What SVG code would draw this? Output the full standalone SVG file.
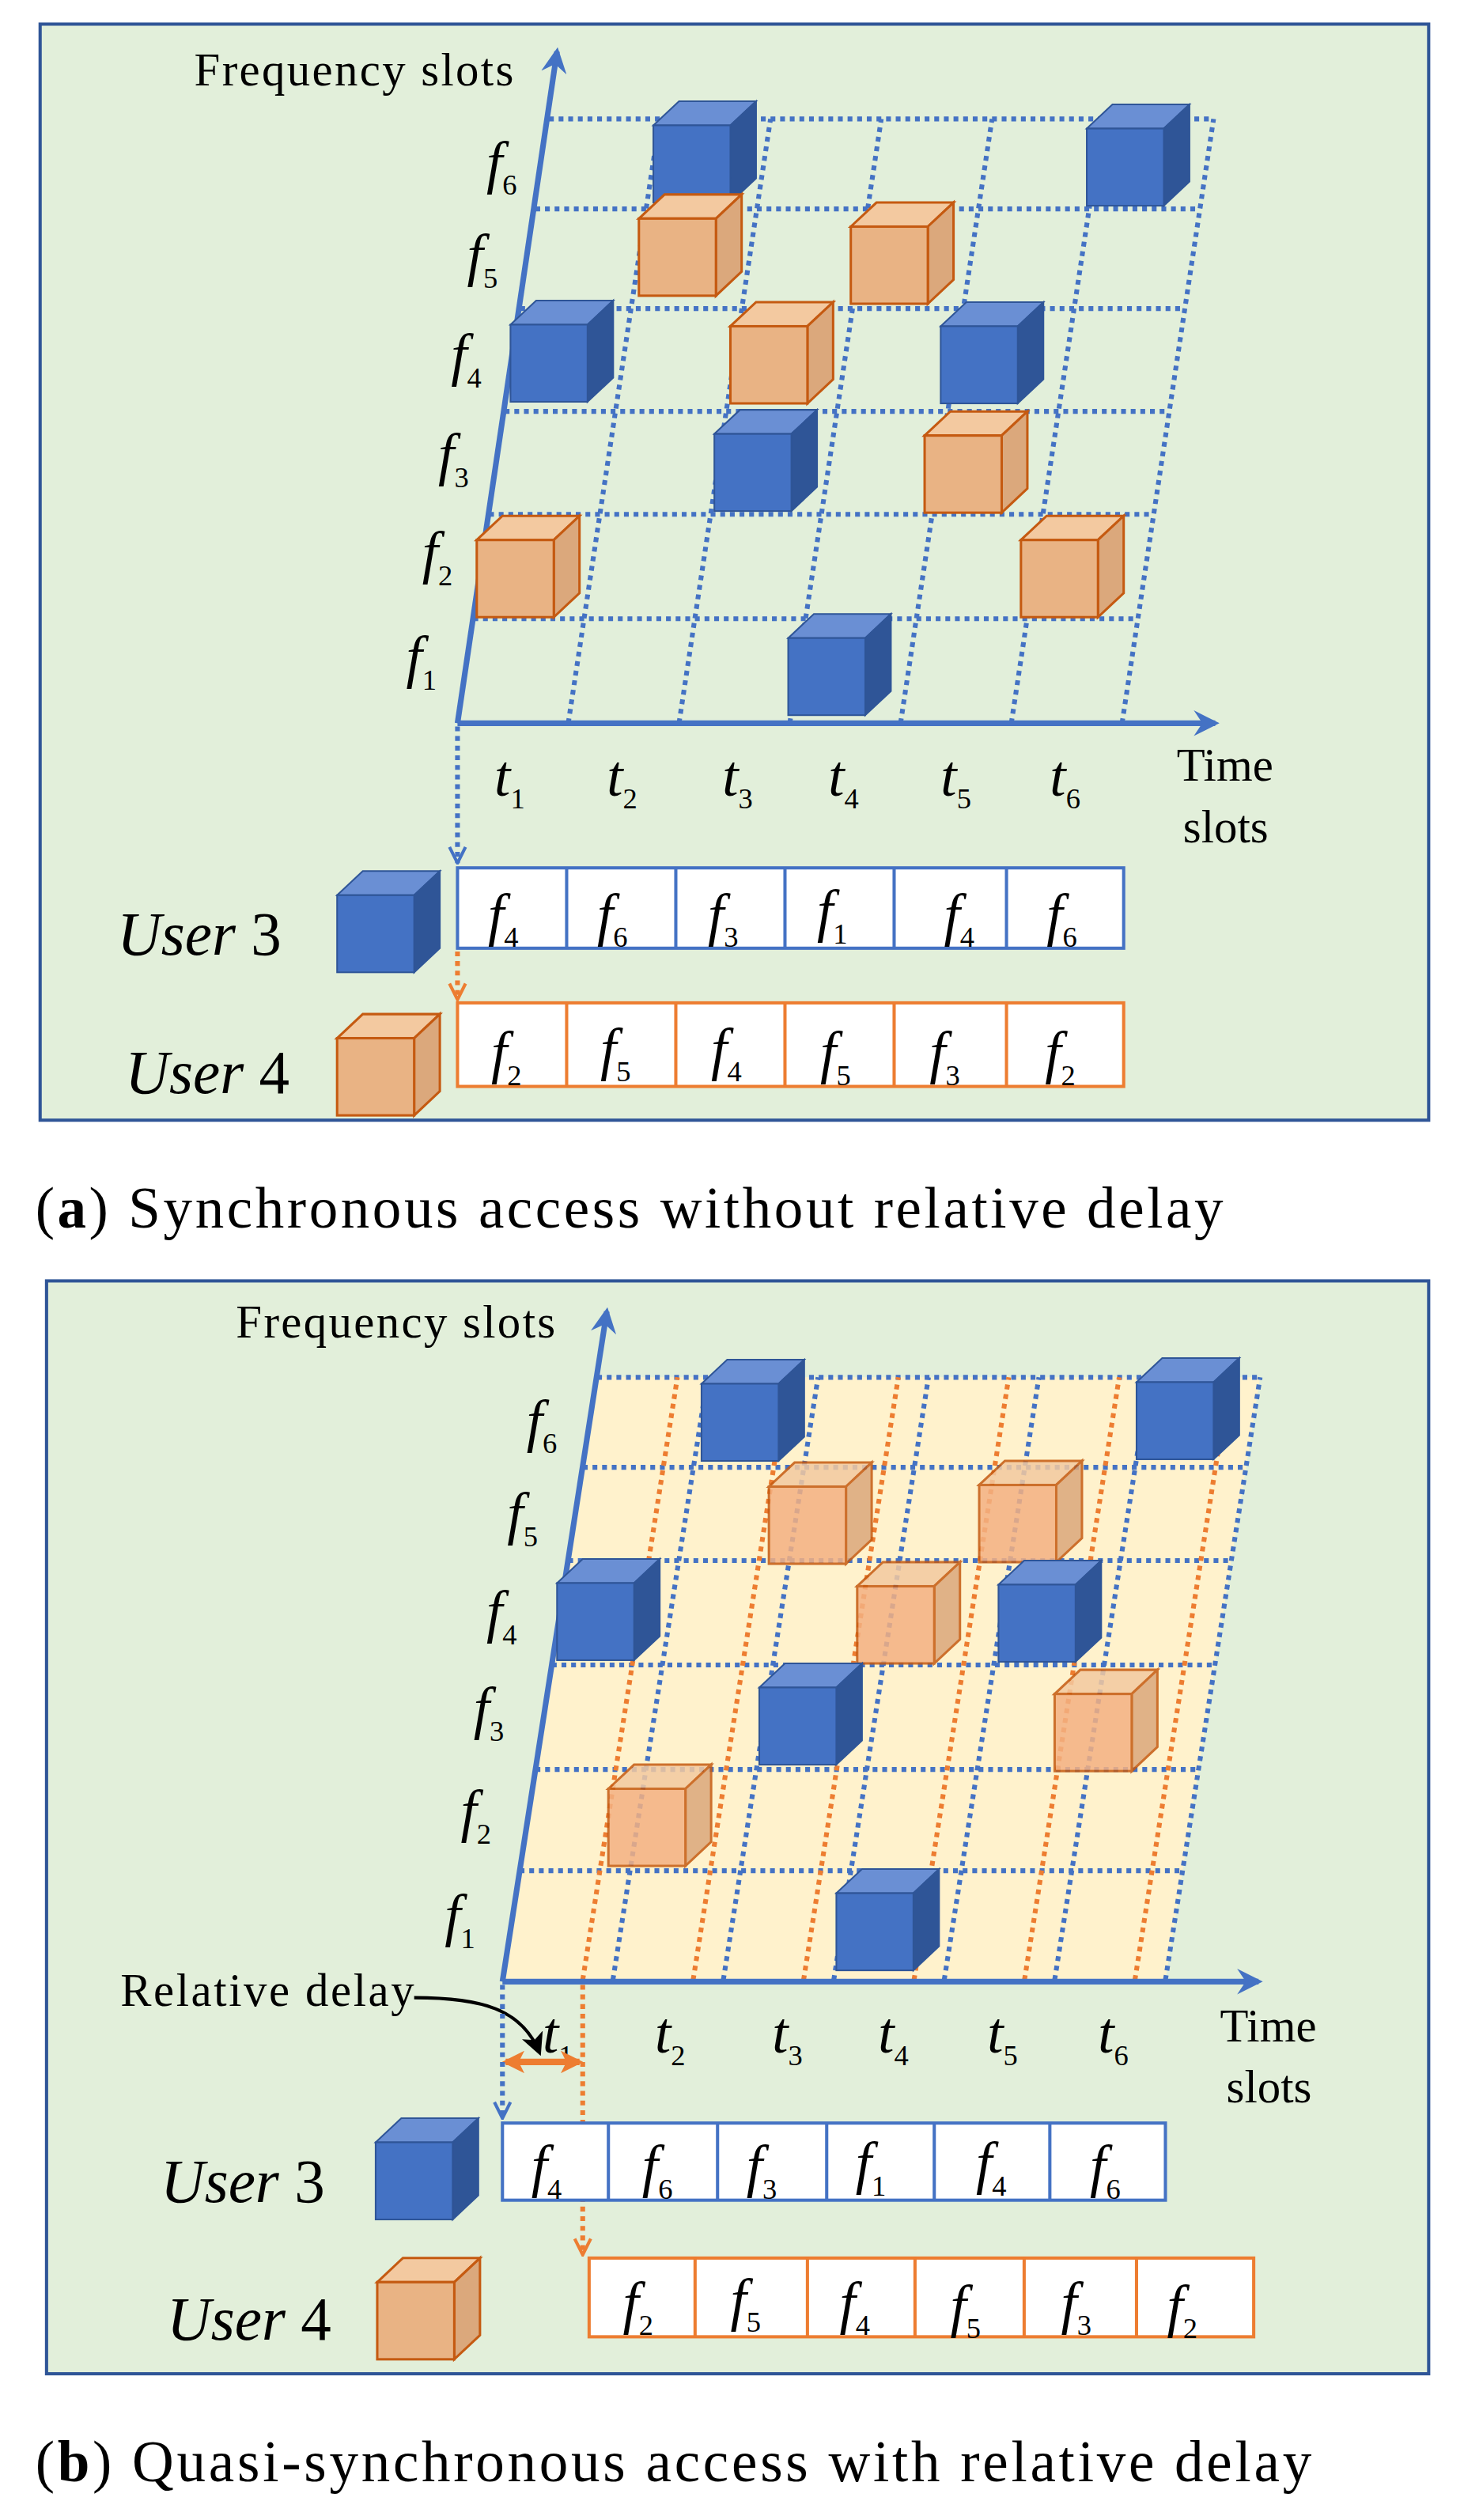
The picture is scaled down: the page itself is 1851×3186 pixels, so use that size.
<svg xmlns="http://www.w3.org/2000/svg" xmlns:xlink="http://www.w3.org/1999/xlink" width="1851" height="3186" viewBox="0 0 1851 3186">
<style>
.frame{fill:#e2efda;stroke:#2f5597;stroke-width:2}
.axis{stroke:#4472c4;stroke-width:3.5;fill:none}
.gb{stroke:#4472c4;stroke-width:3;stroke-dasharray:3 3;fill:none}
.go{stroke:#ed7d31;stroke-width:3;stroke-dasharray:3 3;fill:none}
.fi{font-family:"Liberation Serif",serif;font-style:italic;font-size:36px;fill:#000}
.sub{font-style:normal;font-size:18px}
.lbl{font-family:"Liberation Serif",serif;font-size:29px;fill:#000}
.usr{font-family:"Liberation Serif",serif;font-size:38px;fill:#000}
.cap{font-family:"Liberation Serif",serif;font-size:36px;fill:#000}
.tb{fill:#fff;stroke:#4472c4;stroke-width:2}
.to{fill:#fff;stroke:#ed7d31;stroke-width:2}
</style>
<defs>
<marker id="ax" viewBox="0 0 12 12" refX="10" refY="6" markerWidth="16" markerHeight="16" orient="auto" markerUnits="userSpaceOnUse"><path d="M0,0 L12,6 L0,12 L4,6z" fill="#4472c4"/></marker>
<marker id="db" viewBox="0 0 12 12" refX="11" refY="6" markerWidth="12" markerHeight="12" orient="auto" markerUnits="userSpaceOnUse"><path d="M1,1 L11,6 L1,11" fill="none" stroke="#4472c4" stroke-width="2"/></marker>
<marker id="do" viewBox="0 0 12 12" refX="11" refY="6" markerWidth="12" markerHeight="12" orient="auto" markerUnits="userSpaceOnUse"><path d="M1,1 L11,6 L1,11" fill="none" stroke="#ed7d31" stroke-width="2"/></marker>
<marker id="oa" viewBox="0 0 12 12" refX="10" refY="6" markerWidth="14" markerHeight="14" orient="auto-start-reverse" markerUnits="userSpaceOnUse"><path d="M0,0 L12,6 L0,12 L3,6z" fill="#ed7d31"/></marker>
<marker id="ka" viewBox="0 0 12 12" refX="10" refY="6" markerWidth="14" markerHeight="14" orient="auto" markerUnits="userSpaceOnUse"><path d="M0,0 L12,6 L0,12 L3,6z" fill="#000"/></marker>
<g id="cubeB"><polygon points="0,0 16,-15 64,-15 48,0" fill="#6a8fd4" stroke="#2f5597" stroke-width="1"/><polygon points="48,0 64,-15 64,33 48,48" fill="#2f5597" stroke="#2f5597" stroke-width="1"/><rect x="0" y="0" width="48" height="48" fill="#4472c4" stroke="#2f5597" stroke-width="1"/></g>
<g id="cubeO"><polygon points="0,0 16,-15 64,-15 48,0" fill="#f3c9a0" stroke="#c55a11" stroke-width="1.5"/><polygon points="48,0 64,-15 64,33 48,48" fill="#dba87c" stroke="#c55a11" stroke-width="1.5"/><rect x="0" y="0" width="48" height="48" fill="#e9b384" stroke="#c55a11" stroke-width="1.5"/></g>
<g id="cubeOt" opacity="0.85"><polygon points="0,0 16,-15 64,-15 48,0" fill="#f3c9a0" stroke="#c55a11" stroke-width="1.5"/><polygon points="48,0 64,-15 64,33 48,48" fill="#dba87c" stroke="#c55a11" stroke-width="1.5"/><rect x="0" y="0" width="48" height="48" fill="#f4b183" stroke="#c55a11" stroke-width="1.5"/></g>
</defs>
<rect width="1851" height="3186" fill="#fff"/>
<g transform="scale(2.0296,2.0319)">
<g id="panelA">
<rect class="frame" x="25" y="15" width="865" height="682"/>
<g id="gridA">
<line class="gb" x1="342" y1="74" x2="756" y2="74"/>
<line class="gb" x1="333.5" y1="130" x2="747.5" y2="130"/>
<line class="gb" x1="324.1" y1="192" x2="738.1" y2="192"/>
<line class="gb" x1="314.4" y1="256" x2="728.4" y2="256"/>
<line class="gb" x1="304.7" y1="320" x2="718.7" y2="320"/>
<line class="gb" x1="294.9" y1="385" x2="708.9" y2="385"/>
<line class="gb" x1="354" y1="450" x2="411" y2="74"/>
<line class="gb" x1="423" y1="450" x2="480" y2="74"/>
<line class="gb" x1="492" y1="450" x2="549" y2="74"/>
<line class="gb" x1="561" y1="450" x2="618" y2="74"/>
<line class="gb" x1="630" y1="450" x2="687" y2="74"/>
<line class="gb" x1="699" y1="450" x2="756" y2="74"/>
</g>
<g id="axesA">
<line class="axis" x1="285" y1="450" x2="347" y2="32" marker-end="url(#ax)"/>
<line class="axis" x1="285" y1="450" x2="757" y2="450" marker-end="url(#ax)"/>
</g>
<g id="cubesA">
<use href="#cubeB" x="407" y="78"/>
<use href="#cubeB" x="677" y="80"/>
<use href="#cubeO" x="398" y="136"/>
<use href="#cubeO" x="530" y="141"/>
<use href="#cubeB" x="318" y="202"/>
<use href="#cubeO" x="455" y="203"/>
<use href="#cubeB" x="586" y="203"/>
<use href="#cubeB" x="445" y="270"/>
<use href="#cubeO" x="576" y="271"/>
<use href="#cubeO" x="297" y="336"/>
<use href="#cubeO" x="636" y="336"/>
<use href="#cubeB" x="491" y="397"/>
</g>
<text class="lbl" x="121" y="53" textLength="199">Frequency slots</text>
<text class="fi" x="303" y="113">f<tspan class="sub" dy="8">6</tspan></text>
<text class="fi" x="291" y="171">f<tspan class="sub" dy="8">5</tspan></text>
<text class="fi" x="281" y="233">f<tspan class="sub" dy="8">4</tspan></text>
<text class="fi" x="273" y="295">f<tspan class="sub" dy="8">3</tspan></text>
<text class="fi" x="263" y="356">f<tspan class="sub" dy="8">2</tspan></text>
<text class="fi" x="253" y="421">f<tspan class="sub" dy="8">1</tspan></text>
<text class="fi" x="308" y="495">t<tspan class="sub" dy="8">1</tspan></text>
<text class="fi" x="378" y="495">t<tspan class="sub" dy="8">2</tspan></text>
<text class="fi" x="450" y="495">t<tspan class="sub" dy="8">3</tspan></text>
<text class="fi" x="516" y="495">t<tspan class="sub" dy="8">4</tspan></text>
<text class="fi" x="586" y="495">t<tspan class="sub" dy="8">5</tspan></text>
<text class="fi" x="654" y="495">t<tspan class="sub" dy="8">6</tspan></text>
<text class="lbl" x="733" y="486">Time</text>
<text class="lbl" x="737" y="524">slots</text>
<g id="connA">
<line class="gb" x1="285" y1="452" x2="285" y2="537" stroke-width="2" marker-end="url(#db)"/>
<line class="go" x1="285" y1="592" x2="285" y2="622" stroke-width="2" marker-end="url(#do)"/>
</g>
<g id="user3A">
<rect class="tb" x="285" y="540" width="415" height="50"/>
<path d="M353,540V590M421,540V590M489,540V590M557,540V590M627,540V590" stroke="#4472c4" stroke-width="2"/>
<text class="fi" x="304" y="581">f<tspan class="sub" dy="8">4</tspan></text>
<text class="fi" x="372" y="581">f<tspan class="sub" dy="8">6</tspan></text>
<text class="fi" x="441" y="581">f<tspan class="sub" dy="8">3</tspan></text>
<text class="fi" x="509" y="579">f<tspan class="sub" dy="8">1</tspan></text>
<text class="fi" x="588" y="581">f<tspan class="sub" dy="8">4</tspan></text>
<text class="fi" x="652" y="581">f<tspan class="sub" dy="8">6</tspan></text>
<text class="usr" x="73" y="594"><tspan font-style="italic">User</tspan> 3</text>
<use href="#cubeB" x="210" y="557"/>
</g>
<g id="user4A">
<rect class="to" x="285" y="624" width="415" height="52"/>
<path d="M353,624V676M421,624V676M489,624V676M557,624V676M627,624V676" stroke="#ed7d31" stroke-width="2"/>
<text class="fi" x="306" y="667">f<tspan class="sub" dy="8">2</tspan></text>
<text class="fi" x="374" y="665">f<tspan class="sub" dy="8">5</tspan></text>
<text class="fi" x="443" y="665">f<tspan class="sub" dy="8">4</tspan></text>
<text class="fi" x="511" y="667">f<tspan class="sub" dy="8">5</tspan></text>
<text class="fi" x="579" y="667">f<tspan class="sub" dy="8">3</tspan></text>
<text class="fi" x="651" y="667">f<tspan class="sub" dy="8">2</tspan></text>
<text class="usr" x="78" y="680"><tspan font-style="italic">User</tspan> 4</text>
<use href="#cubeO" x="210" y="646"/>
</g>
</g>
<text class="cap" x="22" y="764" textLength="740">(<tspan font-weight="bold">a</tspan>) Synchronous access without relative delay</text>

<g id="panelB">
<rect class="frame" x="29" y="797" width="861" height="680"/>
<polygon points="313,1232 372,857 785,857 726,1232" fill="#fff2cc"/>
<g id="gridB">
<line class="gb" x1="372" y1="857" x2="785" y2="857"/>
<line class="gb" x1="363.1" y1="913" x2="776.1" y2="913"/>
<line class="gb" x1="354" y1="971" x2="767" y2="971"/>
<line class="gb" x1="343.8" y1="1036" x2="756.8" y2="1036"/>
<line class="gb" x1="333.6" y1="1101" x2="746.6" y2="1101"/>
<line class="gb" x1="323.7" y1="1164" x2="736.7" y2="1164"/>
<line class="go" x1="363" y1="1232" x2="422" y2="857"/>
<line class="go" x1="431.8" y1="1232" x2="490.8" y2="857"/>
<line class="go" x1="500.6" y1="1232" x2="559.6" y2="857"/>
<line class="go" x1="569.4" y1="1232" x2="628.4" y2="857"/>
<line class="go" x1="638.2" y1="1232" x2="697.2" y2="857"/>
<line class="go" x1="707" y1="1232" x2="766" y2="857"/>
<line class="gb" x1="381.8" y1="1232" x2="440.8" y2="857"/>
<line class="gb" x1="450.6" y1="1232" x2="509.6" y2="857"/>
<line class="gb" x1="519.4" y1="1232" x2="578.4" y2="857"/>
<line class="gb" x1="588.2" y1="1232" x2="647.2" y2="857"/>
<line class="gb" x1="657" y1="1232" x2="716" y2="857"/>
<line class="gb" x1="726" y1="1232" x2="785" y2="857"/>
</g>
<g id="axesB">
<line class="axis" x1="313" y1="1233" x2="378" y2="816" marker-end="url(#ax)"/>
<line class="axis" x1="313" y1="1233" x2="784" y2="1233" marker-end="url(#ax)"/>
</g>
<g id="cubesB">
<use href="#cubeB" x="437" y="861"/>
<use href="#cubeB" x="708" y="860"/>
<use href="#cubeOt" x="479" y="925"/>
<use href="#cubeOt" x="610" y="924"/>
<use href="#cubeB" x="347" y="985"/>
<use href="#cubeOt" x="534" y="987"/>
<use href="#cubeB" x="622" y="986"/>
<use href="#cubeB" x="473" y="1050"/>
<use href="#cubeOt" x="657" y="1054"/>
<use href="#cubeOt" x="379" y="1113"/>
<use href="#cubeB" x="521" y="1178"/>
</g>
<text class="lbl" x="147" y="832" textLength="199">Frequency slots</text>
<text class="fi" x="328" y="896">f<tspan class="sub" dy="8">6</tspan></text>
<text class="fi" x="316" y="954">f<tspan class="sub" dy="8">5</tspan></text>
<text class="fi" x="303" y="1015">f<tspan class="sub" dy="8">4</tspan></text>
<text class="fi" x="295" y="1075">f<tspan class="sub" dy="8">3</tspan></text>
<text class="fi" x="287" y="1139">f<tspan class="sub" dy="8">2</tspan></text>
<text class="fi" x="277" y="1204">f<tspan class="sub" dy="8">1</tspan></text>
<text class="fi" x="338" y="1277">t<tspan class="sub" dy="8">1</tspan></text>
<text class="fi" x="408" y="1277">t<tspan class="sub" dy="8">2</tspan></text>
<text class="fi" x="481" y="1277">t<tspan class="sub" dy="8">3</tspan></text>
<text class="fi" x="547" y="1277">t<tspan class="sub" dy="8">4</tspan></text>
<text class="fi" x="615" y="1277">t<tspan class="sub" dy="8">5</tspan></text>
<text class="fi" x="684" y="1277">t<tspan class="sub" dy="8">6</tspan></text>
<text class="lbl" x="760" y="1270">Time</text>
<text class="lbl" x="764" y="1308">slots</text>
<text class="lbl" x="75" y="1248" textLength="183">Relative delay</text>
<g id="connB">
<path d="M258,1243 C300,1243 325,1250 336,1277" fill="none" stroke="#000" stroke-width="2" marker-end="url(#ka)"/>
<line x1="315" y1="1283" x2="361" y2="1283" stroke="#ed7d31" stroke-width="4" marker-start="url(#oa)" marker-end="url(#oa)"/>
<line class="gb" x1="313" y1="1235" x2="313" y2="1318" stroke-width="2" marker-end="url(#db)"/>
<line class="go" x1="363" y1="1235" x2="363" y2="1403" stroke-width="2" marker-end="url(#do)"/>
</g>
<g id="user3B">
<rect class="tb" x="313" y="1321" width="413" height="48"/>
<path d="M379,1321V1369M447,1321V1369M515,1321V1369M582,1321V1369M654,1321V1369" stroke="#4472c4" stroke-width="2"/>
<text class="fi" x="331" y="1360">f<tspan class="sub" dy="8">4</tspan></text>
<text class="fi" x="400" y="1360">f<tspan class="sub" dy="8">6</tspan></text>
<text class="fi" x="465" y="1360">f<tspan class="sub" dy="8">3</tspan></text>
<text class="fi" x="533" y="1358">f<tspan class="sub" dy="8">1</tspan></text>
<text class="fi" x="608" y="1358">f<tspan class="sub" dy="8">4</tspan></text>
<text class="fi" x="679" y="1360">f<tspan class="sub" dy="8">6</tspan></text>
<text class="usr" x="100" y="1370"><tspan font-style="italic">User</tspan> 3</text>
<use href="#cubeB" x="234" y="1333"/>
</g>
<g id="user4B">
<rect class="to" x="367" y="1405" width="414" height="49"/>
<path d="M433,1405V1454M503,1405V1454M570,1405V1454M638,1405V1454M708,1405V1454" stroke="#ed7d31" stroke-width="2"/>
<text class="fi" x="388" y="1445">f<tspan class="sub" dy="8">2</tspan></text>
<text class="fi" x="455" y="1443">f<tspan class="sub" dy="8">5</tspan></text>
<text class="fi" x="523" y="1445">f<tspan class="sub" dy="8">4</tspan></text>
<text class="fi" x="592" y="1447">f<tspan class="sub" dy="8">5</tspan></text>
<text class="fi" x="661" y="1445">f<tspan class="sub" dy="8">3</tspan></text>
<text class="fi" x="727" y="1447">f<tspan class="sub" dy="8">2</tspan></text>
<text class="usr" x="104" y="1456"><tspan font-style="italic">User</tspan> 4</text>
<use href="#cubeO" x="235" y="1420"/>
</g>
</g>
<text class="cap" x="22" y="1544" textLength="795">(<tspan font-weight="bold">b</tspan>) Quasi-synchronous access with relative delay</text>
</g>
</svg>
